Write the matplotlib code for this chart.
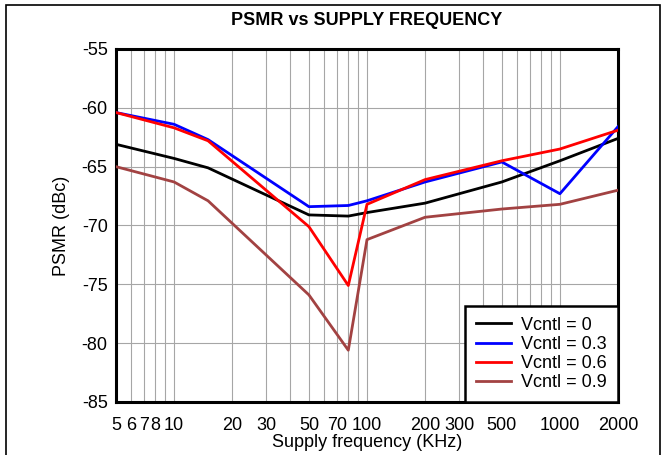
import matplotlib
matplotlib.use("Agg")
import matplotlib.pyplot as plt
from matplotlib.ticker import FixedLocator, NullFormatter, FixedFormatter
from matplotlib.patches import Rectangle

plt.rcParams['font.family'] = ['Liberation Sans', 'DejaVu Sans']

# Supply frequency (kHz)
freq_khz = [5, 10, 15, 50, 80, 100, 200, 500, 1000, 2000]

# PSMR (dBc) for each control voltage
psmr_v0 = [-63.1, -64.3, -65.1, -69.1, -69.2, -68.9, -68.1, -66.3, -64.5, -62.6]
psmr_v03 = [-60.4, -61.4, -62.7, -68.4, -68.3, -67.9, -66.3, -64.6, -67.3, -61.6]
psmr_v06 = [-60.4, -61.7, -62.8, -70.1, -75.1, -68.2, -66.1, -64.5, -63.5, -61.9]
psmr_v09 = [-65.0, -66.3, -67.9, -75.9, -80.6, -71.2, -69.3, -68.6, -68.2, -67.0]

series_labels = ["Vcntl = 0", "Vcntl = 0.3", "Vcntl = 0.6", "Vcntl = 0.9"]
series_colors = ["#000000", "#0000ff", "#ff0000", "#a24242"]

x_tick_values = [5, 6, 7, 8, 10, 20, 30, 50, 70, 100, 200, 300, 500, 1000, 2000]
x_minor_values = [9, 40, 60, 80, 90, 400, 600, 700, 800, 900]
y_tick_values = [-85, -80, -75, -70, -65, -60, -55]

FS = 13

W, H = 669, 455
fig = plt.figure(figsize=(W / 100, H / 100), dpi=100)
ax = fig.add_axes([116 / W, 1 - 402 / H, (618 - 116) / W, (402 - 49) / H])

for ys, lab, col in zip([psmr_v0, psmr_v03, psmr_v06, psmr_v09], series_labels, series_colors):
    ax.plot(freq_khz, ys, color=col, lw=2.0, label=lab, zorder=3)

ax.set_xscale('log')
ax.set_xlim(5, 2000)
ax.set_ylim(-85, -55)

ax.xaxis.set_major_locator(FixedLocator(x_tick_values))
ax.xaxis.set_major_formatter(FixedFormatter([str(v) for v in x_tick_values]))
ax.xaxis.set_minor_locator(FixedLocator(x_minor_values))
ax.xaxis.set_minor_formatter(NullFormatter())
ax.set_yticks(y_tick_values)
ax.set_yticklabels([str(v) for v in y_tick_values])

ax.grid(True, which='both', axis='x', color='#a6a6a6', lw=0.8)
ax.grid(True, which='major', axis='y', color='#a6a6a6', lw=0.8)
ax.set_axisbelow(True)

ax.tick_params(axis='both', which='both', length=0, labelsize=FS)
ax.tick_params(axis='x', pad=11)
ax.tick_params(axis='y', pad=6)

for sp in ax.spines.values():
    sp.set_linewidth(2.2)
    sp.set_color('black')

ax.set_title("PSMR vs SUPPLY FREQUENCY", fontsize=FS, fontweight='bold', pad=17)
ax.set_xlabel("Supply frequency (KHz)", fontsize=FS, labelpad=0)
ax.set_ylabel("PSMR (dBc)", fontsize=FS, labelpad=8)

leg = ax.legend(loc='lower right', fontsize=FS, frameon=True, fancybox=False,
                borderaxespad=0.0, handlelength=1.95, handletextpad=0.55,
                labelspacing=0.12, borderpad=0.6)
leg.get_frame().set_edgecolor('black')
leg.get_frame().set_linewidth(1.8)
leg.get_frame().set_alpha(1.0)
leg.set_zorder(5)

# Outer frame around the figure
fig.patches.append(Rectangle((6 / W, -0.02), (660 - 6) / W, 1 - 5 / H + 0.02,
                             transform=fig.transFigure, fill=False,
                             edgecolor='black', lw=1.2))

fig.savefig("out.png", dpi=100)
